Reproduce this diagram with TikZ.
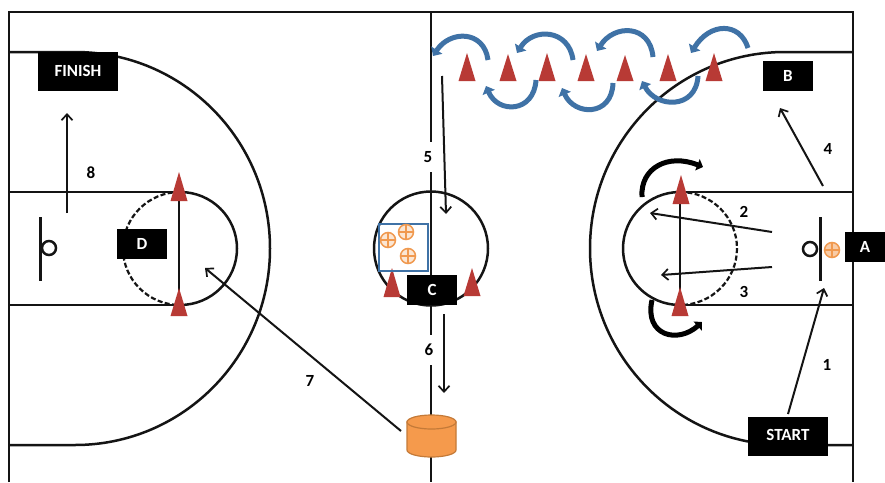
\documentclass[tikz,border=0pt]{standalone}
\usepackage{fontspec}
\setmainfont{Carlito}
\usetikzlibrary{arrows.meta}
\definecolor{coneR}{HTML}{B83A35}
\definecolor{ballO}{HTML}{F0994F}
\definecolor{cylO}{HTML}{F59A4C}
\definecolor{cylE}{HTML}{C47A38}
\definecolor{flowB}{HTML}{3F72A6}
\tikzset{
  x=1pt,y=-1pt,
  court/.style={line width=2.5pt,black!92},
  dashline/.style={line width=2.2pt,black!92,dash pattern=on 5pt off 2.4pt},
  blackbox/.style={fill=black,text=white,font=\bfseries\fontsize{17}{17}\selectfont,inner sep=0pt},
  numlabel/.style={font=\bfseries\fontsize{17}{17}\selectfont,inner sep=0pt},
  gaplabel/.style={numlabel,fill=white,minimum width=17pt,minimum height=30pt},
  run/.style={line width=2pt,black!92,-{Straight Barb[length=6pt,width=11pt,line width=1.7pt]}},
  bluearrow/.style={line width=5pt,flowB,-{Triangle[length=7pt,width=13pt]}},
  blackcurve/.style={line width=5pt,black,-{Triangle[length=6pt,width=12pt]}},
  ball/.style={circle,draw=ballO,fill=ballO!25,line width=1.5pt,minimum size=15pt,inner sep=0pt,
    path picture={\draw[ballO,line width=1.3pt] (path picture bounding box.north) -- (path picture bounding box.south) (path picture bounding box.west) -- (path picture bounding box.east);}},
}
\begin{document}
\begin{tikzpicture}
\useasboundingbox (0,0) rectangle (885,482);
\fill[white] (0,0) rectangle (885,482);
% court
\draw[court] (9,482) -- (9,12) -- (853,12) -- (853,482);
\draw[court] (431,12) -- (431,482);
\draw[court] (9,52) -- (75,52) .. controls (183,52) and (270,140) .. (270,248.5) .. controls (270,357) and (183,445) .. (75,445) -- (9,445);
\draw[court] (853,52) -- (785,52) .. controls (677,52) and (590,140) .. (590,248.5) .. controls (590,357) and (677,445) .. (785,445) -- (853,445);
\draw[court] (9,192) -- (180,192) (9,305) -- (180,305);
\draw[court] (853,192) -- (680,192) (853,305) -- (680,305);
\draw[court] (180,192) .. controls (211.5,192) and (237,217.3) .. (237,248.5) .. controls (237,279.7) and (211.5,305) .. (180,305);
\draw[dashline] (180,192) .. controls (148.5,192) and (123,217.3) .. (123,248.5) .. controls (123,279.7) and (148.5,305) .. (180,305);
\draw[court] (680,192) .. controls (648.5,192) and (623,217.3) .. (623,248.5) .. controls (623,279.7) and (648.5,305) .. (680,305);
\draw[dashline] (680,192) .. controls (711.5,192) and (737,217.3) .. (737,248.5) .. controls (737,279.7) and (711.5,305) .. (680,305);
\draw[court] (431,248.5) circle[radius=57];
% hoops
\draw[court] (40.5,217) -- (40.5,281);
\draw[court] (820.5,217) -- (820.5,281);
\draw[court,fill=white] (49,248) circle[radius=7];
\draw[court,fill=white] (810,249) circle[radius=7];
% cone lines
\draw[court] (179,195) -- (179,295);
\draw[court] (680,195) -- (680,295);
% black curved arrows
\draw[blackcurve] (642,197) .. controls (640,168) and (668,153) .. (703,167);
\draw[blackcurve] (652,300) .. controls (644,336) and (678,344) .. (702,322);
% cones
\foreach \x/\t/\b in {179/172/201,179/288/316,681/175/204,680/287/316,392/268/297,472/268/296,467/53/81,508/54/81,547/53/81,586/54/81,625/55/81,668/54/81,714/53/81}
  \fill[coneR] (\x,\t) -- (\x+8.5,\b) -- (\x-8.5,\b) -- cycle;
% slalom arrows
\draw[bluearrow] (488,60) .. controls (484,30) and (450,30) .. (433,56);
\draw[bluearrow] (573,60) .. controls (569,29) and (533,27) .. (517,53);
\draw[bluearrow] (653,57) .. controls (650,24) and (614,24) .. (597,51);
\draw[bluearrow] (748,48) .. controls (740,22) and (710,22) .. (691,53);
\draw[bluearrow] (536,80) .. controls (534,113) and (498,114) .. (486,86);
\draw[bluearrow] (613,83) .. controls (612,117) and (574,116) .. (562,88);
\draw[bluearrow] (698,76) .. controls (696,110) and (656,108) .. (642,81);
% box and balls
\draw[flowB,line width=1.3pt] (379,224) rectangle (428,271);
\node[ball] (b1) at (388,240) {};
\node[ball] (b2) at (406,232) {};
\node[ball] (b3) at (408,256) {};
\node[ball,fill=ballO!50] (b4) at (832,250) {};
% cylinder
\draw[fill=cylO,draw=cylE,line width=1.2pt] (407,422) -- (407,450) .. controls (407,453.9) and (418,457) .. (431.5,457) .. controls (445,457) and (456,453.9) .. (456,450) -- (456,422) -- cycle;
\draw[fill=cylO,draw=cylE,line width=1.2pt] (431.5,422) ellipse[x radius=24.5,y radius=7];
% label boxes
\node[blackbox,minimum width=80pt,minimum height=39pt] (finish) at (78,71.5) {\raisebox{2pt}{FINISH}};
\node[blackbox,minimum width=50pt,minimum height=30pt] (B) at (788,76) {\raisebox{-2pt}{B}};
\node[blackbox,minimum width=50pt,minimum height=30pt] (D) at (142,244) {\raisebox{-2pt}{D}};
\node[blackbox,minimum width=50pt,minimum height=30pt] (C) at (432,289.5) {C};
\node[blackbox,minimum width=40pt,minimum height=30pt] (A) at (865,246.5) {\raisebox{-1pt}{A}};
\node[blackbox,minimum width=80pt,minimum height=39pt] (start) at (788,436.5) {\raisebox{3pt}{START}};
% numbers
\node[numlabel] (n1) at (827,365) {1};
\node[numlabel] (n2) at (744,212) {2};
\node[numlabel] (n3) at (744,292) {3};
\node[numlabel] (n4) at (828,149) {4};
\node[gaplabel] (n5) at (428,157) {5};
\node[gaplabel] (n6) at (429,350) {6};
\node[numlabel] (n7) at (310,381) {7};
\node[numlabel] (n8) at (91,173) {8};
% runs
\coordinate (r1a) at (788,414); \coordinate (r1b) at (824,288);
\coordinate (r2a) at (772,232); \coordinate (r2b) at (650,213);
\coordinate (r3a) at (772,267); \coordinate (r3b) at (661,275);
\coordinate (r4a) at (823,186); \coordinate (r4b) at (780,108);
\coordinate (r5a) at (442,76);  \coordinate (r5b) at (446,214);
\coordinate (r6a) at (444,314); \coordinate (r6b) at (444,393);
\coordinate (r7a) at (401,431); \coordinate (r7b) at (205,268);
\coordinate (r8a) at (67,213);  \coordinate (r8b) at (67,113);
\foreach \a/\b in {r1a/r1b,r2a/r2b,r3a/r3b,r4a/r4b,r5a/r5b,r6a/r6b,r7a/r7b,r8a/r8b}
  \draw[run] (\a) -- (\b);
\end{tikzpicture}
\end{document}
